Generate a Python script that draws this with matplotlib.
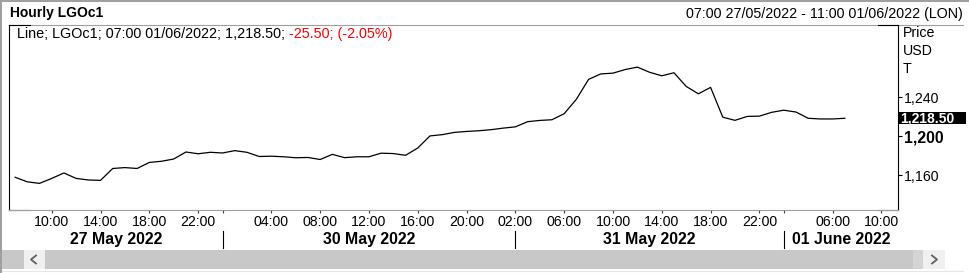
import matplotlib
matplotlib.use('Agg')
import matplotlib.pyplot as plt
from matplotlib.patches import Rectangle
import numpy as np

plt.rcParams['font.family'] = ['Liberation Sans', 'DejaVu Sans']

# -------------------- Data (hourly closes, trading-hour index) -------------------- #
prices = [1158.0, 1153.3, 1151.7, 1156.8, 1162.4, 1156.8, 1155.2, 1154.8, 1167.0, 1167.9,
          1167.0, 1173.2, 1174.4, 1176.7, 1183.9, 1182.1, 1183.6, 1182.9, 1185.3, 1183.6,
          1179.3, 1179.6, 1179.0, 1178.0, 1178.3, 1176.2, 1181.5, 1178.1, 1179.0, 1179.0,
          1182.7, 1182.3, 1180.5, 1188.0, 1200.4, 1201.7, 1204.0, 1205.0, 1205.7, 1206.8,
          1208.4, 1209.7, 1215.0, 1216.3, 1217.0, 1223.2, 1238.0, 1258.4, 1264.0, 1264.8,
          1268.5, 1271.0, 1265.7, 1262.1, 1265.2, 1251.2, 1243.6, 1250.2, 1219.6, 1216.4,
          1220.4, 1220.7, 1224.6, 1226.8, 1224.9, 1218.5, 1217.8, 1217.8, 1218.5]
hours = np.arange(len(prices))

tick_pos = [3, 7, 11, 15, 17, 21, 25, 29, 33, 37, 41, 45, 49, 53, 57, 61, 63, 67, 71]
tick_lbl = ['10:00', '14:00', '18:00', '22:00', '', '04:00', '08:00', '12:00', '16:00',
            '20:00', '02:00', '06:00', '10:00', '14:00', '18:00', '22:00', '', '06:00', '10:00']
day_edges = [-0.5, 17, 41, 63, 72.36]
day_names = ['27 May 2022', '30 May 2022', '31 May 2022', '01 June 2022']

y_ticks = [1160, 1200, 1240]
y_lbls = ['1,160', '1,200', '1,240']

legend_main = 'Line; LGOc1; 07:00 01/06/2022; 1,218.50; '
legend_chg = '-25.50; (-2.05%)'
header = '07:00 27/05/2022 - 11:00 01/06/2022 (LON)'

# -------------------- Figure / chrome -------------------- #
W, H = 969, 273
fig = plt.figure(figsize=(W / 100, H / 100), dpi=100)
bg = fig.add_axes([0, 0, 1, 1])
bg.set_xlim(0, W)
bg.set_ylim(H, 0)
bg.axis('off')

# outer border
bg.add_patch(Rectangle((0, 0), 2, H, fc='#a0a0a0', ec='none'))
bg.add_patch(Rectangle((0, 0), W, 1.5, fc='#a0a0a0', ec='none'))

# header separator and black corners
bg.plot([9, 963], [25, 25], color='#a0a0a0', lw=0.8)
for xs, y in [([9, 30], 25), ([878, 898], 25), ([9, 30], 210), ([878, 898], 210)]:
    bg.plot(xs, [y, y], color='black', lw=0.8)

# scrollbar
bg.add_patch(Rectangle((2, 250), 22, 19, fc='#c8c8c8', ec='none'))
bg.add_patch(Rectangle((24, 250), 21, 19, fc='#f0f0f0', ec='none'))
bg.add_patch(Rectangle((45, 250), 868, 19, fc='#c8c8c8', ec='none'))
bg.add_patch(Rectangle((913, 250), 10, 19, fc='#d4d4d4', ec='none'))
bg.add_patch(Rectangle((923, 250), 22, 19, fc='#f0f0f0', ec='none'))
bg.plot([2, 963], [270.5, 270.5], color='#e6e6e6', lw=0.8)
bg.plot([36, 31, 36], [255.5, 259.5, 263.5], color='#606060', lw=1.3)
bg.plot([932, 937, 932], [255.5, 259.5, 263.5], color='#606060', lw=1.3)

# header texts
bg.text(10, 13, 'Hourly LGOc1', fontsize=10, fontweight='bold', va='center', ha='left')
bg.text(963, 14, header, fontsize=10.3, va='center', ha='right')
for txt, y in [('Price', 33), ('USD', 51), ('T', 69)]:
    bg.text(903, y, txt, fontsize=10.2, va='center', ha='left')

t = bg.text(17, 34, legend_main, fontsize=10.35, va='center', ha='left')
bg.annotate(legend_chg, xy=(1, 0), xycoords=t, va='bottom', ha='left',
            fontsize=10.35, color='#ff0000')

# -------------------- Plot -------------------- #
ax = fig.add_axes([9 / W, (H - 210) / H, 889 / W, 185 / H])
ax.set_zorder(2)
ax.patch.set_visible(False)
ax.plot(hours, prices, color='black', lw=0.9)
ax.set_xlim(-0.5, 72.36)
ax.set_ylim(1124.4, 1314.2)

ax.spines['top'].set_visible(False)
ax.spines['bottom'].set_color('#a0a0a0')
for s in ['left', 'right']:
    ax.spines[s].set_color('black')
for s in ['left', 'right', 'bottom']:
    ax.spines[s].set_linewidth(0.8)

ax.set_xticks(tick_pos)
ax.set_xticklabels(tick_lbl, fontsize=10.2)
ax.tick_params(axis='x', direction='out', length=2.5, width=0.8, color='#404040', pad=1)

ax.yaxis.tick_right()
ax.set_yticks(y_ticks)
ax.set_yticklabels(y_lbls, fontsize=10.2)
ax.tick_params(axis='y', direction='out', length=2.9, width=0.8, color='black', pad=1.2)
for lbl in ax.get_yticklabels():
    if lbl.get_text() == '1,200':
        lbl.set_fontweight('bold')
        lbl.set_fontsize(11.3)

# day dividers and labels
xtr = ax.get_xaxis_transform()
for x in day_edges[1:-1]:
    ax.plot([x, x], [-0.114, -0.205], color='black', lw=0.8, transform=xtr, clip_on=False)
for a, b, name in zip(day_edges[:-1], day_edges[1:], day_names):
    ax.text((a + b) / 2, -0.16, name, transform=xtr, ha='center', va='center',
            fontsize=11.4, fontweight='bold')

# last price box
last = prices[-1]
ytr = ax.get_yaxis_transform()
ax.add_patch(Rectangle((1.0, last - 6 / 0.975), 68 / 889, 12 / 0.975, transform=ytr,
                       fc='black', ec='none', clip_on=False))
ax.text(1.0 + 2 / 889, last, f'{last:,.2f}', transform=ytr, ha='left', va='center',
        color='white', fontsize=10, fontweight='bold')

fig.savefig('out.png', dpi=100)
